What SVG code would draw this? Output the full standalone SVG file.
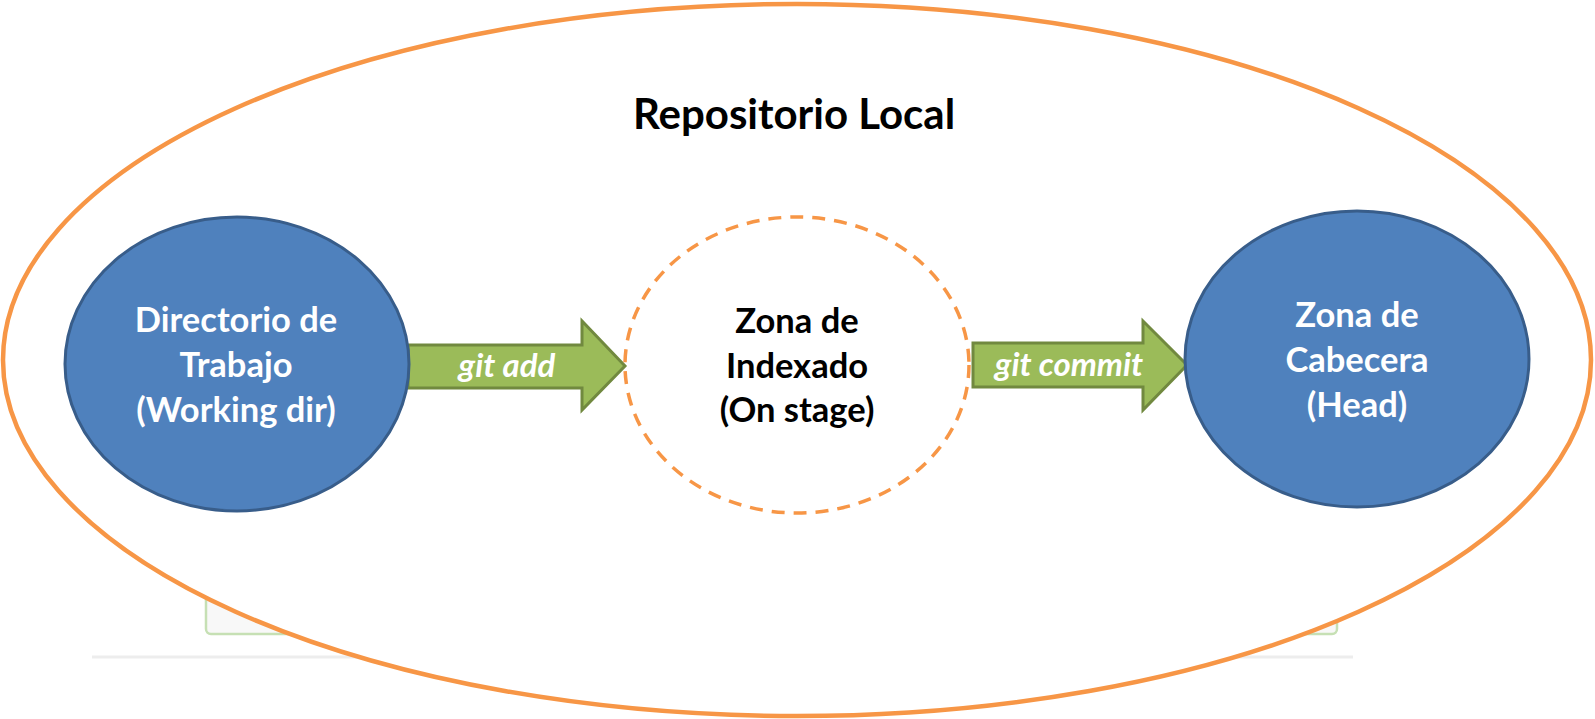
<svg xmlns="http://www.w3.org/2000/svg" width="1595" height="719" viewBox="0 0 1595 719">
  <style>
    .lbl { font-family: Lato, "Open Sans", "Liberation Sans", sans-serif; font-weight: bold; text-anchor: middle; }
    .node-text { font-size: 34.5px; }
    .white { fill: #FFFFFF; }
    .black { fill: #000000; }
    .conn-text { font-size: 33px; font-style: italic; fill: #FFFFFF; }
    .blue { fill: #4F81BD; stroke: #385D8A; stroke-width: 3; }
    .arrow { fill: #9BBB59; stroke: #71893F; stroke-width: 3; stroke-linejoin: miter; }
  </style>
  <rect width="1595" height="719" fill="#FFFFFF"/>
  <g id="background">
    <rect x="206" y="540" width="1131" height="94" rx="5" fill="#F8F8F8" stroke="#C6E0B4" stroke-width="2.5"/>
    <line x1="92" y1="657" x2="1353" y2="657" stroke="#EDEDED" stroke-width="3"/>
  </g>
  <g id="repositorio-local">
    <ellipse cx="797" cy="360" rx="794" ry="356" fill="#FFFFFF" stroke="#F79646" stroke-width="4.5"/>
    <text class="lbl black" x="794" y="129" font-size="42">Repositorio Local</text>
  </g>
  <g id="connectors">
    <g id="git-add">
      <polygon class="arrow" points="408,345 582,345 582,321 625,366 582,410 582,388 408,388"/>
      <text class="lbl conn-text" x="507" y="377">git add</text>
    </g>
    <g id="git-commit">
      <polygon class="arrow" points="973,343 1143,343 1143,321 1187,365 1143,410 1143,387 973,387"/>
      <text class="lbl conn-text" x="1069" y="376">git commit</text>
    </g>
  </g>
  <g id="working-dir">
    <ellipse class="blue" cx="237" cy="364" rx="172" ry="147"/>
    <text class="lbl node-text white" x="236" y="332">Directorio de</text>
    <text class="lbl node-text white" x="236" y="377">Trabajo</text>
    <text class="lbl node-text white" x="236" y="422">(Working dir)</text>
  </g>
  <g id="on-stage">
    <ellipse cx="797" cy="365" rx="172" ry="148" fill="none" stroke="#F79646" stroke-width="3.5" stroke-dasharray="13 9"/>
    <text class="lbl node-text black" x="797" y="333">Zona de</text>
    <text class="lbl node-text black" x="797" y="378">Indexado</text>
    <text class="lbl node-text black" x="797" y="422">(On stage)</text>
  </g>
  <g id="head">
    <ellipse class="blue" cx="1357" cy="359" rx="172" ry="148"/>
    <text class="lbl node-text white" x="1357" y="327">Zona de</text>
    <text class="lbl node-text white" x="1357" y="372">Cabecera</text>
    <text class="lbl node-text white" x="1357" y="417">(Head)</text>
  </g>
</svg>
